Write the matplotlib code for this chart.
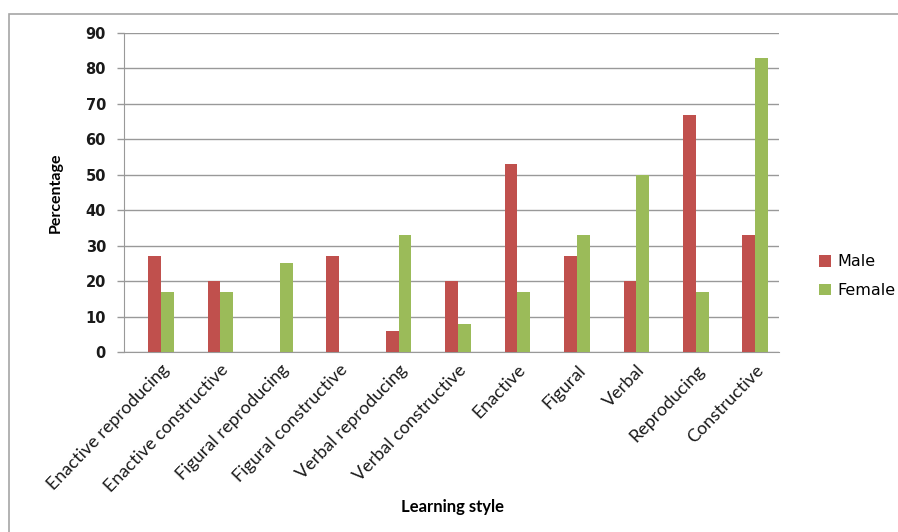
import numpy as np
import matplotlib
matplotlib.use("Agg")
import matplotlib.pyplot as plt
from matplotlib.patches import Rectangle

# data
categories = [
    "Enactive reproducing", "Enactive constructive", "Figural reproducing",
    "Figural constructive", "Verbal reproducing", "Verbal constructive",
    "Enactive", "Figural", "Verbal", "Reproducing", "Constructive",
]
male = [27, 20, 0, 27, 6, 20, 53, 27, 20, 67, 33]
female = [17, 17, 25, 0, 33, 8, 17, 33, 50, 17, 83]
yticks = list(range(0, 91, 10))

RED = "#C0504D"
GREEN = "#9BBB59"
GRID = "#999999"
TEXT = "#1A1A1A"

fig = plt.figure(figsize=(8.98, 5.32), dpi=100)
ax = fig.add_axes([124 / 898, 1 - 352 / 532, (779 - 124) / 898, (352 - 33) / 532])

# outer chart border (cropped at right and bottom like the reference)
fig.patches.append(Rectangle((9 / 898, -0.1), 1.5, 1 - 14 / 532 + 0.1,
                             transform=fig.transFigure, fill=False,
                             edgecolor="#A6A6A6", linewidth=1.2))

x = np.arange(len(categories))
w = 0.215
ax.bar(x - w / 2, male, width=w, color=RED, label="Male", zorder=3)
ax.bar(x + w / 2, female, width=w, color=GREEN, label="Female", zorder=3)

ax.set_xlim(-0.62, 10.4)
ax.set_ylim(0, 90)
ax.set_yticks(yticks)
ax.yaxis.grid(True, color=GRID, linewidth=1.0, zorder=0)
ax.set_axisbelow(True)

for s in ["top", "right"]:
    ax.spines[s].set_visible(False)
ax.spines["left"].set_color(GRID)
ax.spines["bottom"].set_color(GRID)
ax.tick_params(axis="y", length=5, color=GRID, width=1.0, pad=8)
ax.tick_params(axis="x", length=0, pad=7)

for lab in ax.get_yticklabels():
    lab.set_fontsize(10.5)
    lab.set_fontweight("bold")
    lab.set_color(TEXT)
    lab.set_family("DejaVu Sans")

ax.set_xticks(x)
ax.set_xticklabels(categories, rotation=46, ha="right", va="top",
                   rotation_mode="anchor", fontsize=13, family="Lato",
                   color=TEXT)

ax.set_ylabel("Percentage", fontsize=11.5, fontweight="bold", family="Lato",
              color="black", labelpad=16)
fig.text(452 / 898, 1 - 507 / 532, "Learning style", fontsize=12,
         fontweight="bold", family="Lato", color="black",
         ha="center", va="center")

leg = fig.legend(loc="upper left", bbox_to_anchor=(805 / 898, 1 - 240 / 532),
                 frameon=False, handlelength=0.75, handleheight=0.75,
                 handletextpad=0.4, labelspacing=0.85,
                 prop={"family": "DejaVu Sans", "size": 11.5})

fig.savefig("out.png", dpi=100)
